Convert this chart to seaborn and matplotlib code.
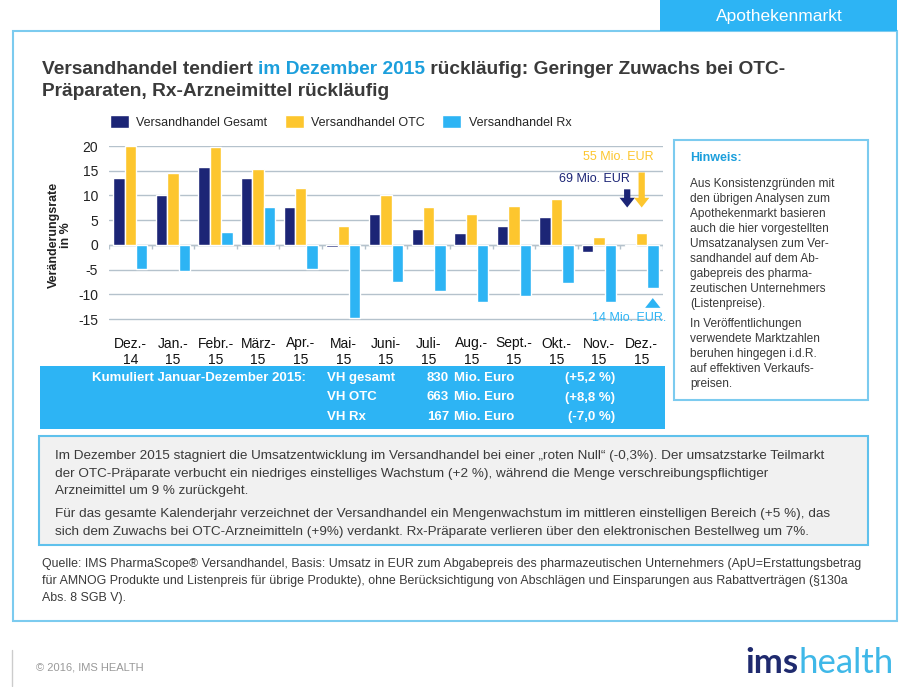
"""Versandhandel Apothekenmarkt: monthly change rates Dec 2014 - Dec 2015."""

import matplotlib.pyplot as plt
import seaborn as sns
import pandas as pd
import numpy as np
from matplotlib.patches import Rectangle


# --- data -------------------------------------------------------------------
months = ["Dez.-\n14", "Jan.-\n15", "Febr.-\n15", "März-\n15", "Apr.-\n15",
          "Mai-\n15", "Juni-\n15", "Juli-\n15", "Aug.-\n15", "Sept.-\n15",
          "Okt.-\n15", "Nov.-\n15", "Dez.-\n15"]
vh_gesamt = [13.5, 10.1, 15.8, 13.6, 7.6, -0.4, 6.2, 3.2, 2.4, 3.8, 5.7, -1.5, -0.3]
vh_otc = [20.0, 14.5, 19.7, 15.4, 11.6, 3.8, 10.1, 7.6, 6.2, 7.8, 9.3, 1.6, 2.4]
vh_rx = [-4.9, -5.3, 2.6, 7.6, -4.9, -14.7, -7.5, -9.4, -11.5, -10.4, -7.7, -11.5, -8.8]
series = ["Versandhandel Gesamt", "Versandhandel OTC", "Versandhandel Rx"]
y_ticks = [-15, -10, -5, 0, 5, 10, 15, 20]

cum_labels = ["VH gesamt", "VH OTC", "VH Rx"]
cum_values = ["830", "663", "167"]
cum_changes = ["(+5,2 %)", "(+8,8 %)", "(-7,0 %)"]

NAVY = "#1c2576"
YELLOW = "#fdc62e"
LIGHTBLUE = "#2db4f4"
TEXT = "#3a3a3a"
FRAME = "#7ccbef"

sns.set_style("white")
plt.rcParams['font.family'] = ["Liberation Sans", "DejaVu Sans"]

df = pd.DataFrame({
    "Monat": months * 3,
    "Wert": vh_gesamt + vh_otc + vh_rx,
    "Serie": [s for s in series for _ in months],
})

fig = plt.figure(figsize=(9.1, 6.87), dpi=100)

# overlay in pixel coordinates for the page furniture
over = fig.add_axes([0, 0, 1, 1], zorder=0)
over.set_xlim(0, 910)
over.set_ylim(687, 0)
over.axis("off")


def box(x, y, w, h, **kw):
    over.add_patch(Rectangle((x, y), w, h, **kw))


def runs(x, y, parts, **kw):
    r = fig.canvas.get_renderer()
    for s, c, extra in parts:
        t = over.text(x, y, s, color=c, **kw, **extra)
        x += t.get_window_extent(renderer=r).width


# frame + tab
box(13, 31, 884, 590, fill=False, edgecolor=FRAME, lw=1.5)
box(660, 0, 237, 31, facecolor=LIGHTBLUE, edgecolor="none")
over.text(779, 16, "Apothekenmarkt", color="white", fontsize=12.5,
          ha="center", va="center")

# title
tkw = dict(fontsize=13.8, fontweight="bold", va="baseline")
runs(42, 74, [("Versandhandel tendiert ", TEXT, {}), ("im Dezember 2015", "#1c9fdc", {}),
              (" rückläufig: Geringer Zuwachs bei OTC-", TEXT, {})], **tkw)
over.text(42, 96, "Präparaten, Rx-Arzneimittel rückläufig", color=TEXT, **tkw)

# --- chart ------------------------------------------------------------------
ax = fig.add_axes([109 / 910, 1 - 324 / 687, 554 / 910, 178 / 687], zorder=1)
ax.patch.set_alpha(0)
sns.barplot(data=df, x="Monat", y="Wert", hue="Serie", order=months,
            hue_order=series, palette=[NAVY, YELLOW, LIGHTBLUE],
            width=0.8, saturation=1, ax=ax)
ax.set_ylim(-16, 20)
ax.set_xlim(-0.5, len(months) - 0.5)
ax.set_yticks(y_ticks)
ax.set_yticklabels([str(v) for v in y_ticks], fontsize=10, color="#222222")
ax.grid(axis="y", color="#b5c2cc", lw=1)
ax.set_axisbelow(True)
for s in ax.spines.values():
    s.set_visible(False)
ax.axhline(0, color="#b5c2cc", lw=1, zorder=0.5)
ax.vlines(np.arange(-0.5, len(months)), -0.8, 0, color="#b5c2cc", lw=1, zorder=0.5)
ax.tick_params(axis="x", length=0, pad=9, labelsize=10, labelcolor="#111111")
ax.tick_params(axis="y", length=0, pad=8)
ax.set_xlabel("")
ax.set_ylabel("Veränderungsrate\nin %", fontsize=9, fontweight="bold",
              color="#222222", labelpad=4, linespacing=1.1)

handles, labels = ax.get_legend_handles_labels()
ax.legend(handles, labels, ncol=3, frameon=False, fontsize=9,
          loc="center left", bbox_to_anchor=(110 / 910, 1 - 122 / 687),
          bbox_transform=fig.transFigure, handlelength=1.5, handleheight=1.2,
          handletextpad=0.6, columnspacing=1.4, borderaxespad=0, borderpad=0)

# December notes
last = len(months) - 1
ax.text(last - 0.55, 17.8, "55 Mio. EUR", color=YELLOW, fontsize=9, ha="center", va="center")
ax.text(last - 1.1, 13.3, "69 Mio. EUR", color=NAVY, fontsize=9, ha="center", va="center")
ax.text(last - 0.3, -14.8, "14 Mio. EUR.", color=LIGHTBLUE, fontsize=9, ha="center", va="center")
astyle = "simple,head_width=1.1,head_length=0.7,tail_width=0.45"
ax.annotate("", xy=(last - 0.34, 7.0), xytext=(last - 0.34, 11.8),
            arrowprops=dict(arrowstyle=astyle, color=NAVY, lw=0))
ax.annotate("", xy=(last, 7.0), xytext=(last, 15.2),
            arrowprops=dict(arrowstyle=astyle, color=YELLOW, lw=0))
ax.annotate("", xy=(last + 0.26, -10.2), xytext=(last + 0.26, -12.9),
            arrowprops=dict(arrowstyle=astyle, color=LIGHTBLUE, lw=0))

# --- cumulative band ----------------------------------------------------------
box(40, 366, 625, 63, facecolor=LIGHTBLUE, edgecolor="none")
bkw = dict(color="white", fontsize=9.5, fontweight="bold", va="center")
over.text(306, 378, "Kumuliert Januar-Dezember 2015:", ha="right", **bkw)
for i, (lab, val, chg) in enumerate(zip(cum_labels, cum_values, cum_changes)):
    yy = 378 + i * 19.5
    over.text(327, yy, lab, ha="left", **bkw)
    over.text(449, yy, val, ha="right", **bkw)
    over.text(454, yy, "Mio. Euro", ha="left", **bkw)
    over.text(615, yy, chg, ha="right", **bkw)

# --- note box -----------------------------------------------------------------
box(674, 140, 194, 260, fill=False, edgecolor=FRAME, lw=1.5)
over.text(690, 158, "Hinweis:", color="#1c9fdc", fontsize=9, fontweight="bold", va="center")
hkw = dict(color=TEXT, fontsize=8.6, va="top", linespacing=1.33)
over.text(690, 178, "Aus Konsistenzgründen mit\nden übrigen Analysen zum\n"
          "Apothekenmarkt basieren\nauch die hier vorgestellten\n"
          "Umsatzanalysen zum Ver-\nsandhandel auf dem Ab-\n"
          "gabepreis des pharma-\nzeutischen Unternehmers\n(Listenpreise).", **hkw)
over.text(690, 318, "In Veröffentlichungen\nverwendete Marktzahlen\n"
          "beruhen hingegen i.d.R.\nauf effektiven Verkaufs-\npreisen.", **hkw)

# --- summary text ---------------------------------------------------------------
box(39, 436, 829, 109, facecolor="#f1f1f1", edgecolor="#5fc1ec", lw=1.5)
skw = dict(color=TEXT, fontsize=9.7, va="top", linespacing=1.62)
over.text(55, 450, "Im Dezember 2015 stagniert die Umsatzentwicklung im Versandhandel bei einer "
          "„roten Null“ (-0,3%). Der umsatzstarke Teilmarkt\nder OTC-Präparate verbucht ein "
          "niedriges einstelliges Wachstum (+2 %), während die Menge verschreibungspflichtiger\n"
          "Arzneimittel um 9 % zurückgeht.", **skw)
over.text(55, 508, "Für das gesamte Kalenderjahr verzeichnet der Versandhandel ein Mengenwachstum "
          "im mittleren einstelligen Bereich (+5 %), das\nsich dem Zuwachs bei OTC-Arzneimitteln "
          "(+9%) verdankt. Rx-Präparate verlieren über den elektronischen Bestellweg um 7%.", **skw)

over.text(42, 558, "Quelle: IMS PharmaScope® Versandhandel, Basis: Umsatz in EUR zum Abgabepreis des "
          "pharmazeutischen Unternehmers (ApU=Erstattungsbetrag\nfür AMNOG Produkte und Listenpreis "
          "für übrige Produkte), ohne Berücksichtigung von Abschlägen und Einsparungen aus "
          "Rabattverträgen (§130a\nAbs. 8 SGB V).", color=TEXT, fontsize=8.9, va="top",
          linespacing=1.55)

# --- footer ---------------------------------------------------------------------
over.plot([12, 12], [650, 686], color="#cccccc", lw=1)
over.text(36, 668, "© 2016, IMS HEALTH", color="#999999", fontsize=8, va="center")
runs(745, 673, [("ims", "#1f2a6e", dict(fontweight="bold")),
                ("health", "#3fb8e8", dict(fontweight="normal"))],
     fontsize=25, va="baseline", family=["Lato", "Liberation Sans"])

plt.savefig("out.png", dpi=100)
